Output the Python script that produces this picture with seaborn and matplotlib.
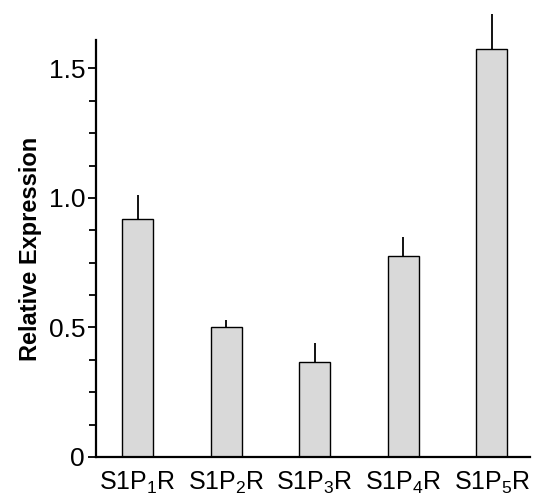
import pandas as pd
import numpy as np
import matplotlib
matplotlib.use('Agg')
import matplotlib.pyplot as plt
from matplotlib.ticker import MultipleLocator
import seaborn as sns

receptores = ['S1P$_\\mathregular{1}$R', 'S1P$_\\mathregular{2}$R', 'S1P$_\\mathregular{3}$R',
              'S1P$_\\mathregular{4}$R', 'S1P$_\\mathregular{5}$R']
expressao = [0.92, 0.50, 0.367, 0.776, 1.575]
erro = [0.09, 0.03, 0.075, 0.075, 0.135]

sns.set_style('ticks')
plt.rcParams['font.family'] = ['Liberation Sans', 'DejaVu Sans']
plt.rcParams['mathtext.fontset'] = 'custom'
plt.rcParams['mathtext.rm'] = 'Liberation Sans'
plt.rcParams['mathtext.it'] = 'Liberation Sans:italic'
for k in ['text.color', 'axes.labelcolor', 'xtick.color', 'ytick.color', 'axes.edgecolor']:
    plt.rcParams[k] = 'black'

tabela = pd.DataFrame({'receptor': receptores, 'valor': expressao, 'erro': erro})

fig = plt.figure(figsize=(5.34, 5.0), dpi=100)
ax = fig.add_axes([0.18, 0.086, 0.8125, 0.834])

sns.barplot(data=tabela, x='receptor', y='valor', color='#d9d9d9', width=0.35,
            edgecolor='black', linewidth=1, saturation=1, errorbar=None, ax=ax)

# barras de erro so para cima
pos = np.arange(len(receptores))
ax.errorbar(pos, tabela['valor'], yerr=[np.zeros(len(erro)), tabela['erro']],
            fmt='none', ecolor='black', elinewidth=1.3, capsize=0, zorder=1, clip_on=False)

ax.set_xlim(-0.47, len(receptores) - 1 + 0.43)
ax.set_ylim(0, 1.61)
ax.set_yticks([0, 0.5, 1.0, 1.5])
ax.set_yticklabels(['0', '0.5', '1.0', '1.5'])
ax.yaxis.set_minor_locator(MultipleLocator(0.125))
ax.tick_params(axis='y', which='major', direction='out', length=6, width=1.3, labelsize=19, pad=2)
ax.tick_params(axis='y', which='minor', direction='out', length=5, width=1.3)
ax.tick_params(axis='x', length=0, labelsize=18, pad=9)

ax.set_xlabel('')
ax.set_ylabel('Relative Expression', fontsize=17, fontweight='bold', labelpad=5)

sns.despine(ax=ax)
for s in ['left', 'bottom']:
    ax.spines[s].set_linewidth(1.6)

fig.savefig('out.png', dpi=100)
